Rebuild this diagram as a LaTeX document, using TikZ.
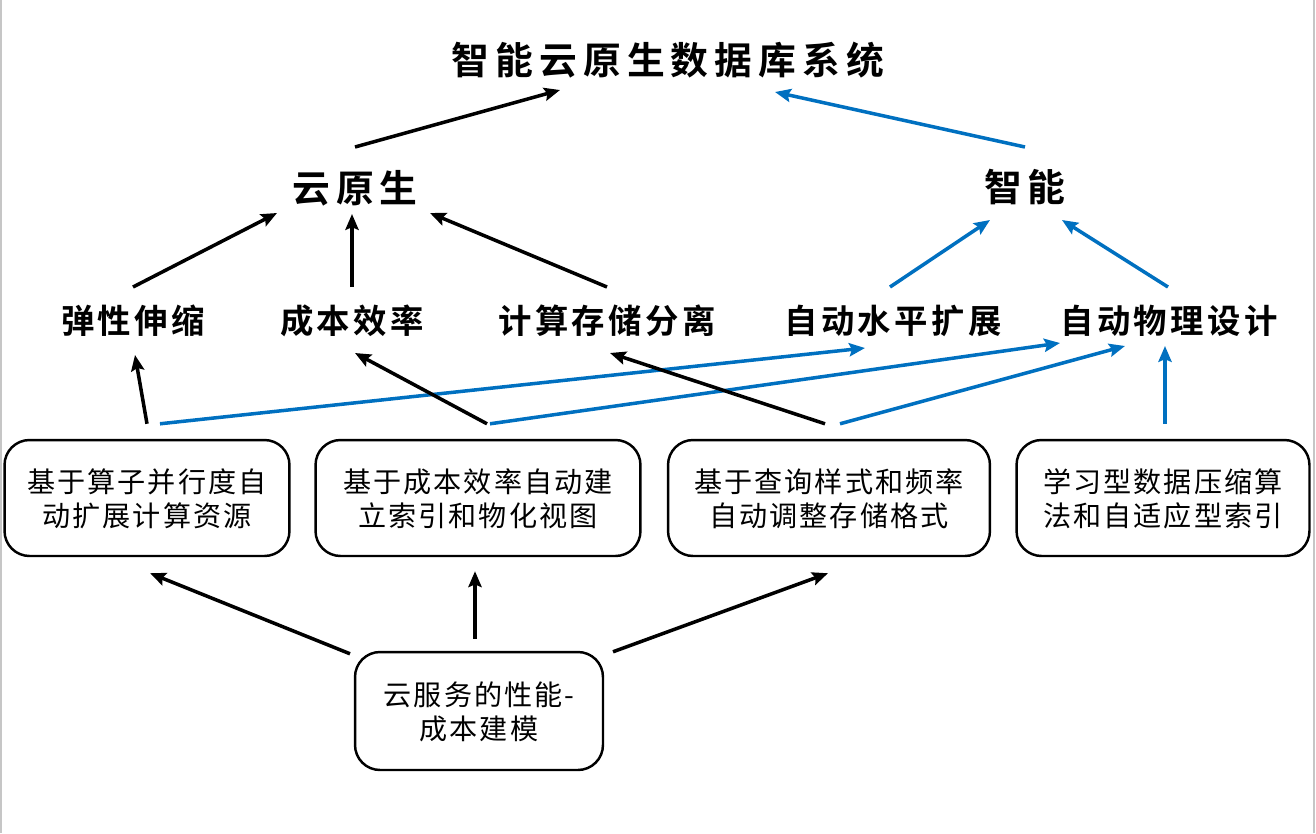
\documentclass[tikz,border=0pt]{standalone}
\usepackage{fontspec}
\usetikzlibrary{arrows.meta,positioning,calc}
\newfontfamily\hdfont{Noto Sans CJK SC Bold}[LetterSpace=16]
\newfontfamily\midfont{Noto Sans CJK SC Bold}[LetterSpace=10]
\newfontfamily\boxfont{Noto Sans CJK SC}[LetterSpace=7]
\definecolor{lnblue}{RGB}{0,112,192}
\tikzset{
  toplbl/.style={font=\hdfont\fontsize{21.5}{26}\selectfont,inner sep=0pt},
  midlbl/.style={font=\midfont\fontsize{19}{23}\selectfont,inner sep=0pt},
  blk/.style={draw,rectangle,rounded corners=0.5cm,line width=1.4pt,minimum height=2.32cm,align=center,
    text depth=-0.12cm,font=\boxfont\fontsize{16}{19.3}\selectfont},
  arr/.style={-{Stealth[length=9pt,width=7.5pt,inset=1.5pt]},line width=2pt},
  barr/.style={arr,lnblue},
  edge/.style={gray!45,line width=1.2pt}
}
\begin{document}
\begin{tikzpicture}[x=0.02cm,y=-0.02cm]
  \useasboundingbox (0,0) rectangle (1316,833);
  \draw[edge] (1,0) -- (1,833);
  \draw[edge] (1314,0) -- (1314,833);

  \node[toplbl] (sys) at (668,60) {智能云原生数据库系统};
  \node[toplbl] (yun) at (355,188) {云原生};
  \node[toplbl] (zn) at (1025,187) {智能};

  \node[midlbl] (tanx) at (133,321) {弹性伸缩};
  \node[midlbl] (cost) at (352,321) {成本效率};
  \node[midlbl] (sep) at (607,321) {计算存储分离};
  \node[midlbl] (hscale) at (893,321) {自动水平扩展};
  \node[midlbl] (phys) at (1169,321) {自动物理设计};

  \node[blk,minimum width=5.7cm] (b1) at (147,498) {基于算子并行度自\\动扩展计算资源};
  \node[blk,minimum width=6.5cm] (b2) at (478,498) {基于成本效率自动建\\立索引和物化视图};
  \node[blk,minimum width=6.44cm] (b3) at (829,498) {基于查询样式和频率\\自动调整存储格式};
  \node[blk,minimum width=5.86cm] (b4) at (1163,498) {学习型数据压缩算\\法和自适应型索引};
  \node[blk,minimum width=4.96cm,minimum height=2.36cm] (model) at (479,711) {云服务的性能-\\成本建模};

  \draw[arr] ($(yun)+(0,-41)$) -- ($(sys)+(-108,30)$);
  \draw[barr] ($(zn)+(0,-40)$) -- ($(sys)+(107,32)$);

  \draw[arr] ($(tanx)+(0,-34)$) -- ($(yun)+(-78,25)$);
  \draw[arr] ($(cost)+(0,-34)$) -- ($(yun)+(-3,26)$);
  \draw[arr] ($(sep)+(0,-34)$) -- ($(yun)+(75,25)$);
  \draw[barr] ($(hscale)+(-3,-34)$) -- ($(zn)+(-35,33)$);
  \draw[barr] ($(phys)+(-1,-34)$) -- ($(zn)+(37,33)$);

  \draw[arr] ($(b1.north)+(0,-15)$) -- ($(tanx)+(2,34)$);
  \draw[barr] ($(b1.north)+(13,-15)$) -- ($(hscale)+(-28,27)$);
  \draw[arr] ($(b2.north)+(9,-15)$) -- ($(cost)+(3,32)$);
  \draw[barr] ($(b2.north)+(12,-15)$) -- ($(phys)+(-109,22)$);
  \draw[arr] ($(b3.north)+(-4,-15)$) -- ($(sep)+(3,32)$);
  \draw[barr] ($(b3.north)+(11,-15)$) -- ($(phys)+(-44,25)$);
  \draw[barr] ($(b4.north)+(2,-15)$) -- ($(phys)+(-4,25)$);

  \draw[arr] ($(model.north)+(-129,3)$) -- ($(b1.south)+(3,16)$);
  \draw[arr] ($(model.north)+(-4,-12)$) -- ($(b2.south)+(-3,14)$);
  \draw[arr] ($(model.north)+(134,1)$) -- ($(b3.south)+(-1,16)$);
\end{tikzpicture}
\end{document}
